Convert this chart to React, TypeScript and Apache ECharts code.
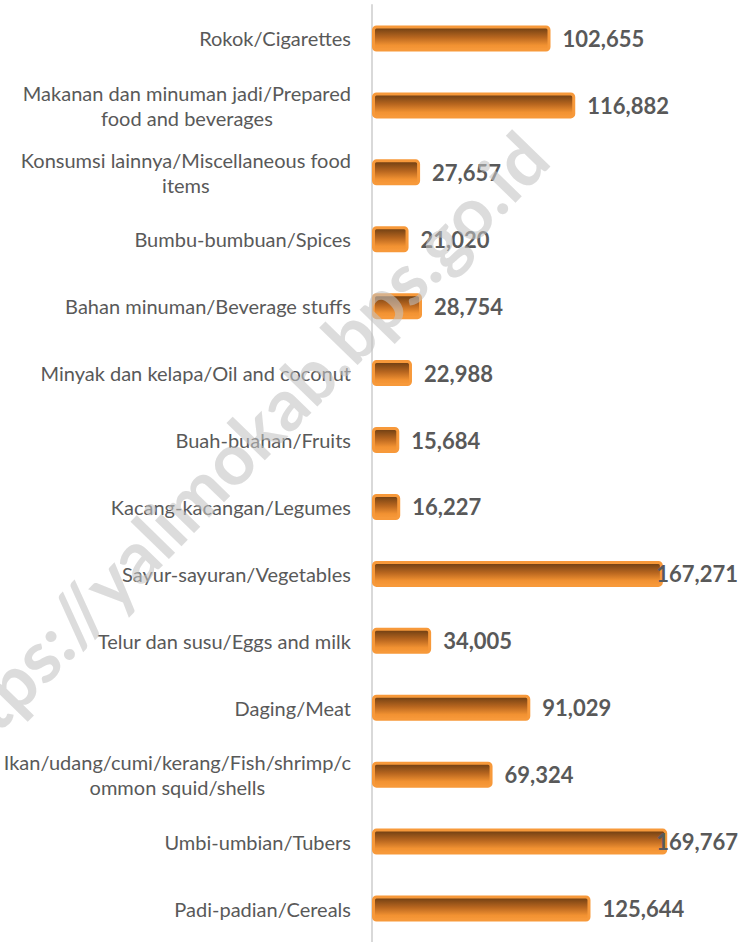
import React, { useEffect, useRef } from 'react';
import * as echarts from 'echarts';

const categories = [
  'Rokok/Cigarettes',
  'Makanan dan minuman jadi/Prepared food and beverages',
  'Konsumsi lainnya/Miscellaneous food items',
  'Bumbu-bumbuan/Spices',
  'Bahan minuman/Beverage stuffs',
  'Minyak dan kelapa/Oil and coconut',
  'Buah-buahan/Fruits',
  'Kacang-kacangan/Legumes',
  'Sayur-sayuran/Vegetables',
  'Telur dan susu/Eggs and milk',
  'Daging/Meat',
  'Ikan/udang/cumi/kerang/Fish/shrimp/common squid/shells',
  'Umbi-umbian/Tubers',
  'Padi-padian/Cereals',
];
const values = [102655, 116882, 27657, 21020, 28754, 22988, 15684, 16227, 167271, 34005, 91029, 69324, 169767, 125644];
const watermark = 'https://yalimokab.bps.go.id';

const CAT_FONT = 'Lato';
const CAT_SIZE = 20;
const VAL_SIZE = 22;
const TEXT_COLOR = '#595959';
const WRAP_W = 353;

function measurer(font: string) {
  const ctx = document.createElement('canvas').getContext('2d')!;
  ctx.font = font;
  return (s: string) => ctx.measureText(s).width;
}

function wrap(text: string, maxW: number, font: string): string[] {
  const m = measurer(font);
  const lines: string[] = [];
  let cur = '';
  for (const w of text.split(' ')) {
    const cand = cur ? cur + ' ' + w : w;
    if (m(cand) <= maxW) { cur = cand; continue; }
    if (cur) { lines.push(cur); cur = ''; }
    let word = w;
    while (m(word) > maxW) {
      let i = word.length;
      while (i > 1 && m(word.slice(0, i)) > maxW) i--;
      lines.push(word.slice(0, i));
      word = word.slice(i);
    }
    cur = word;
  }
  if (cur) lines.push(cur);
  return lines;
}

const fmt = (v: number) => v.toLocaleString('en-US');

export default function App() {
  const ref = useRef<HTMLDivElement>(null);
  useEffect(() => {
    document.body.style.margin = '0';
    const chart = echarts.init(ref.current!, null, { renderer: 'svg' });
    const catFont = `${CAT_SIZE}px ${CAT_FONT}`;
    const richBase = { fontFamily: CAT_FONT, fontSize: CAT_SIZE, color: TEXT_COLOR, lineHeight: 25 };
    const barStyle = {
      color: new echarts.graphic.LinearGradient(0, 0, 0, 1, [
        { offset: 0, color: '#6a3c12' },
        { offset: 0.45, color: '#b8661f' },
        { offset: 0.8, color: '#f29232' },
        { offset: 1, color: '#f7993a' },
      ]),
      borderColor: '#f7993a',
      borderWidth: 3,
      borderRadius: 3,
    };
    const labelBase = {
      show: true,
      position: 'right',
      distance: 12,
      formatter: (p: any) => fmt(p.value),
      fontFamily: 'Lato',
      fontWeight: 'bold',
      fontSize: VAL_SIZE,
      color: TEXT_COLOR,
    };
    const option: any = {
      animation: false,
      grid: { left: 372, top: 5, width: 313, height: 943 },
      xAxis: { type: 'value', min: 0, max: 180000, show: false },
      yAxis: {
        type: 'category',
        data: categories,
        inverse: true,
        axisTick: { show: false },
        axisLine: { lineStyle: { color: '#d9d9d9', width: 2 } },
        axisLabel: {
          margin: 21,
          formatter: (v: string) => {
            const lines = wrap(v, WRAP_W, catFont);
            return lines.map((l, i) => (i === 0 ? `{a|${l}}` : `{b|${l}}`)).join('\n');
          },
          rich: { a: { ...richBase, align: 'right' }, b: { ...richBase, align: 'center' } },
        },
      },
      series: [
        {
          type: 'bar',
          data: values,
          barWidth: 26,
          itemStyle: barStyle,
          label: labelBase,
        },
      ],
      graphic: [
        {
          type: 'text',
          x: 233,
          y: 453,
          rotation: 0.8,
          z: 100,
          silent: true,
          style: {
            text: watermark,
            fontFamily: 'Lato',
            fontWeight: 'bold',
            fontSize: 72,
            fill: 'rgba(195,195,195,0.58)',
            align: 'center',
            verticalAlign: 'middle',
          },
        },
      ],
    };
    chart.setOption(option);
    // keep value labels inside the page like the reference
    const mv = measurer(`bold ${VAL_SIZE}px Lato`);
    const data = values.map((v) => {
      const px = chart.convertToPixel({ xAxisIndex: 0 }, v) as number;
      const w = mv(fmt(v));
      const over = px + 12 + w - 738;
      return over > 0 ? { value: v, label: { offset: [-over, 0] } } : v;
    });
    chart.setOption({ series: [{ data }] });
    return () => chart.dispose();
  }, []);
  return <div ref={ref} style={{ position: 'absolute', left: 0, top: 0, width: 740, height: 942 }} />;
}
